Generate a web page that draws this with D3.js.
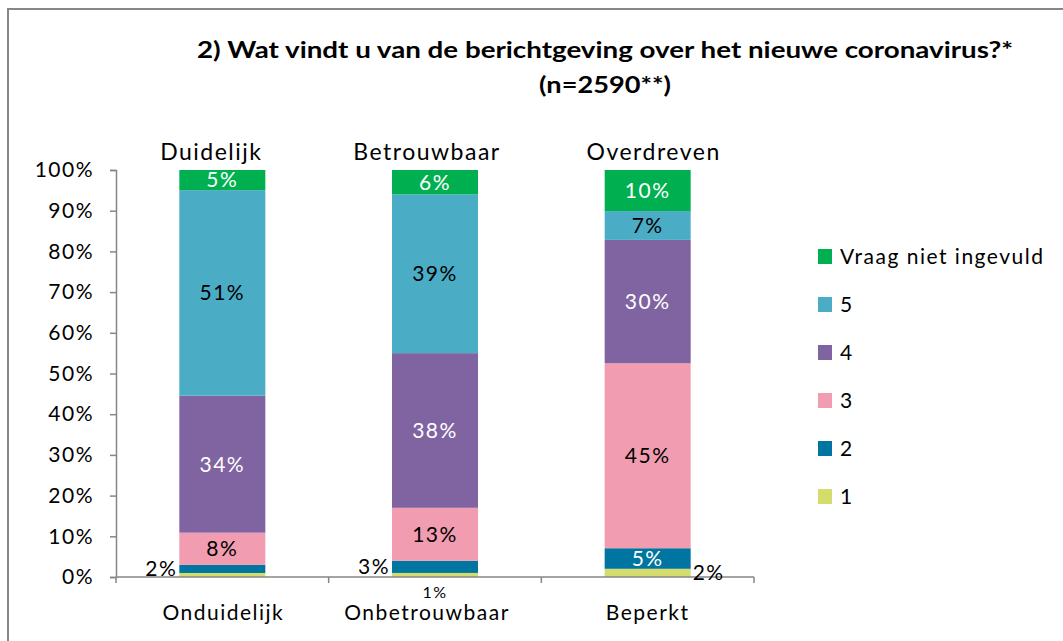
<!DOCTYPE html>
<html>
<head>
<meta charset="utf-8">
<script src="https://cdn.jsdelivr.net/npm/d3@7"></script>
<style>
  body { margin: 0; background: #fff; }
  svg { display: block; font-family: Lato, "Open Sans", sans-serif; }
  svg text { letter-spacing: 1.5px; }
  svg text.title { letter-spacing: 0; }
</style>
</head>
<body>
<div class="chart"></div>
<script>
// categories on the x axis (bottom) and their counterparts (top)
var categories = ["Onduidelijk", "Onbetrouwbaar", "Beperkt"];
var topLabels = ["Duidelijk", "Betrouwbaar", "Overdreven"];

// series, bottom to top
var seriesNames = ["1", "2", "3", "4", "5", "Vraag niet ingevuld"];
var s1 = [1, 1, 2];
var s2 = [2, 3, 5];
var s3 = [8, 13, 45];
var s4 = [34, 38, 30];
var s5 = [51, 39, 7];
var sNiet = [5, 6, 10];

var yTicks = [0, 0.1, 0.2, 0.3, 0.4, 0.5, 0.6, 0.7, 0.8, 0.9, 1];

function init() {
  var w = 1063, h = 641;
  var colors = ["#d4dc6c", "#0075a2", "#f19cb0", "#8064a2", "#4bacc6", "#00b050"];
  var labelColors = ["#000", "#fff", "#000", "#fff", "#000", "#fff"];
  // small horizontal nudges of the category texts, as in the original
  var topShift = [-11, -8, 6];
  var botShift = [1, -8, 0];

  var seriesValues = [s1, s2, s3, s4, s5, sNiet];
  var data = categories.map(function(c, i) {
    var row = { cat: c };
    seriesNames.forEach(function(s, j) { row[s] = seriesValues[j][i]; });
    return row;
  });

  var stack = d3.stack().keys(seriesNames).offset(d3.stackOffsetExpand);
  var layers = stack(data);

  var x = d3.scaleBand().domain(categories).range([116, 754]).padding(0);
  var y = d3.scaleLinear().domain([0, 1]).range([577, 170]);
  var barW = 86;

  var svg = d3.select(".chart").append("svg")
    .attr("width", w).attr("height", h);

  // chart frame (only left and top edges are visible)
  svg.append("rect")
    .attr("x", 8).attr("y", 9)
    .attr("width", w + 20).attr("height", h + 20)
    .attr("fill", "none").attr("stroke", "#878787").attr("stroke-width", 2);

  // title
  var title = svg.append("text")
    .attr("class", "title")
    .attr("x", 605).attr("text-anchor", "middle")
    .style("font-size", "23px").style("font-weight", "bold");
  title.append("tspan").attr("x", 605).attr("y", 58)
    .attr("textLength", 816).attr("lengthAdjust", "spacingAndGlyphs")
    .text("2) Wat vindt u van de berichtgeving over het nieuwe coronavirus?*");
  title.append("tspan").attr("x", 605).attr("y", 93)
    .attr("textLength", 132).attr("lengthAdjust", "spacingAndGlyphs")
    .text("(n=2590**)");

  // bars
  var groups = svg.selectAll(".layer")
    .data(layers).enter().append("g")
    .attr("class", "layer")
    .attr("fill", function(d, i) { return colors[i]; });

  groups.selectAll("rect")
    .data(function(d) { return d; })
    .enter().append("rect")
    .attr("x", function(d) { return x(d.data.cat) + x.bandwidth() / 2 - barW / 2; })
    .attr("width", barW)
    .attr("y", function(d) { return y(d[1]); })
    .attr("height", function(d) { return y(d[0]) - y(d[1]); });

  // y axis
  var yAxis = d3.axisLeft(y).tickValues(yTicks)
    .tickFormat(d3.format(".0%")).tickSize(6).tickPadding(16);
  var gy = svg.append("g").attr("transform", "translate(116,0)").call(yAxis);
  gy.select(".domain").attr("stroke", "#868686").attr("stroke-width", 1.5);
  gy.selectAll(".tick line").attr("stroke", "#868686").attr("stroke-width", 1.5);
  gy.selectAll(".tick text").attr("fill", "#000")
    .style("font-size", "21px").style("font-family", "Lato, sans-serif");

  // x axis, ticks between categories
  var gx = svg.append("g").attr("class", "xaxis");
  gx.append("line")
    .attr("x1", x.range()[0]).attr("x2", x.range()[1])
    .attr("y1", y(0)).attr("y2", y(0))
    .attr("stroke", "#868686").attr("stroke-width", 1.5);
  var bounds = categories.map(function(c) { return x(c); }).concat([x.range()[1]]);
  gx.selectAll(".xt").data(bounds).enter().append("line")
    .attr("x1", function(d) { return d; }).attr("x2", function(d) { return d; })
    .attr("y1", y(0)).attr("y2", y(0) + 6)
    .attr("stroke", "#868686").attr("stroke-width", 1.5);
  gx.selectAll(".xl").data(categories).enter().append("text")
    .attr("x", function(d, i) { return x(d) + x.bandwidth() / 2 + botShift[i]; })
    .attr("y", 620)
    .attr("text-anchor", "middle")
    .style("font-size", "21px")
    .text(function(d) { return d; });

  // top labels
  svg.selectAll(".toplab").data(topLabels).enter().append("text")
    .attr("x", function(d, i) { return x(categories[i]) + x.bandwidth() / 2 + topShift[i]; })
    .attr("y", 160)
    .attr("text-anchor", "middle")
    .style("font-size", "23px")
    .text(function(d) { return d; });

  // data labels; small segments get their label outside the bar
  var outside = {
    "Onduidelijk|1": "none",
    "Onduidelijk|2": "left",
    "Onbetrouwbaar|1": "below",
    "Onbetrouwbaar|2": "left",
    "Beperkt|1": "right"
  };
  var pct = d3.format(".0%");
  layers.forEach(function(layer, li) {
    layer.forEach(function(d, ci) {
      var cat = d.data.cat;
      var raw = seriesValues[li][ci] / 100;
      var place = outside[cat + "|" + layer.key] || "in";
      if (place === "none") return;
      var cx = x(cat) + x.bandwidth() / 2;
      var cy = (y(d[0]) + y(d[1])) / 2;
      var t = svg.append("text")
        .attr("dy", "0.35em")
        .style("font-size", "21px")
        .attr("fill", "#000")
        .text(pct(raw));
      if (place === "in") {
        t.attr("x", cx).attr("y", cy).attr("text-anchor", "middle")
          .attr("fill", labelColors[li]);
      } else if (place === "left") {
        t.attr("x", cx - barW / 2 - 2).attr("y", cy).attr("text-anchor", "end");
      } else if (place === "right") {
        t.attr("x", cx + barW / 2 + 2).attr("y", cy).attr("text-anchor", "start");
      } else if (place === "below") {
        t.attr("x", cx).attr("y", y(0) + 15).attr("text-anchor", "middle")
          .style("font-size", "16px");
      }
    });
  });

  // legend, top entry first
  var legendItems = seriesNames.slice().reverse();
  var lg = svg.append("g").attr("transform", "translate(818,0)");
  legendItems.forEach(function(name, i) {
    var ly = 257 + i * 48;
    lg.append("rect")
      .attr("x", 0).attr("y", ly - 8).attr("width", 14).attr("height", 15)
      .attr("fill", colors[seriesNames.indexOf(name)]);
    lg.append("text")
      .attr("x", 22).attr("y", ly).attr("dy", "0.35em")
      .style("font-size", "21px")
      .text(name);
  });
}
window.onload = init;
</script>
</body>
</html>
